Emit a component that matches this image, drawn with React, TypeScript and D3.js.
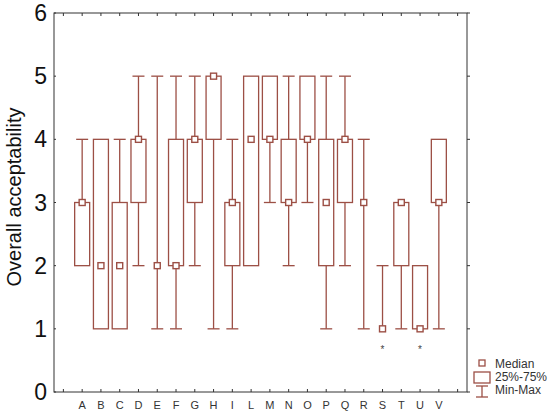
import React, { useEffect, useRef } from 'react';
import * as d3 from 'd3';

// sample names and box-plot stats
const samples = ['A', 'B', 'C', 'D', 'E', 'F', 'G', 'H', 'I', 'L', 'M', 'N', 'O', 'P', 'Q', 'R', 'S', 'T', 'U', 'V'];
const mins =    [2, 1, 1, 2, 1, 1, 2, 1, 1, 2, 3, 2, 3, 1, 2, 1, 1, 1, 1, 1];
const q1s =     [2, 1, 1, 3, 2, 2, 3, 4, 2, 2, 4, 3, 4, 2, 3, 3, 1, 2, 1, 3];
const medians = [3, 2, 2, 4, 2, 2, 4, 5, 3, 4, 4, 3, 4, 3, 4, 3, 1, 3, 1, 3];
const q3s =     [3, 4, 3, 4, 2, 4, 4, 5, 3, 5, 5, 4, 5, 4, 4, 3, 1, 3, 2, 4];
const maxs =    [4, 4, 4, 5, 5, 5, 5, 5, 4, 5, 5, 5, 5, 5, 5, 4, 2, 3, 2, 4];
const outlierSamples = ['S', 'U'];
const outlierValues = [0.7, 0.7];
const yTicks = [0, 1, 2, 3, 4, 5, 6];

const W = 550;
const H = 414;
const COLOR = '#9c4f45';

const App = () => {
  const ref = useRef<SVGSVGElement>(null);

  useEffect(() => {
    const svg = d3.select(ref.current);
    svg.selectAll('*').remove();

    const left = 54, right = 467, top = 13, bottom = 392;
    // slot 0 and slot 21 are empty ticks at either end
    const x = d3.scaleLinear().domain([-0.5, 21.5]).range([left, right]);
    const y = d3.scaleLinear().domain([0, 6]).range([bottom, top]);
    const pos = (s: string) => x(samples.indexOf(s) + 1);

    svg.append('rect').attr('width', W).attr('height', H).attr('fill', 'white');

    // frame
    svg.append('rect')
      .attr('x', left).attr('y', top)
      .attr('width', right - left).attr('height', bottom - top)
      .attr('fill', 'none').attr('stroke', '#333').attr('stroke-width', 1);

    // x ticks, inward on top and bottom
    const xt = d3.range(0, 22);
    svg.append('g').selectAll('line').data(xt).enter().append('line')
      .attr('x1', d => x(d)).attr('x2', d => x(d))
      .attr('y1', bottom).attr('y2', bottom - 3)
      .attr('stroke', '#333');
    svg.append('g').selectAll('line').data(xt).enter().append('line')
      .attr('x1', d => x(d)).attr('x2', d => x(d))
      .attr('y1', top).attr('y2', top + 3)
      .attr('stroke', '#333');

    // y ticks: tiny inward on the left, outward on the right
    svg.append('g').selectAll('line').data(yTicks).enter().append('line')
      .attr('x1', left).attr('x2', left + 2)
      .attr('y1', d => y(d)).attr('y2', d => y(d))
      .attr('stroke', '#333');
    svg.append('g').selectAll('line').data(yTicks).enter().append('line')
      .attr('x1', right).attr('x2', right + 3)
      .attr('y1', d => y(d)).attr('y2', d => y(d))
      .attr('stroke', '#333');

    svg.append('g').selectAll('text').data(yTicks).enter().append('text')
      .attr('x', 47).attr('y', d => y(d) + 8)
      .attr('text-anchor', 'end')
      .style('font-family', 'Liberation Sans, Arial, sans-serif')
      .style('font-size', '23px')
      .attr('fill', '#111')
      .text(d => d);

    svg.append('g').selectAll('text').data(samples).enter().append('text')
      .attr('x', d => pos(d)).attr('y', 409)
      .attr('text-anchor', 'middle')
      .style('font-family', 'Liberation Sans, Arial, sans-serif')
      .style('font-size', '11px')
      .attr('fill', '#333')
      .text(d => d);

    svg.append('text')
      .attr('transform', 'translate(21,197) rotate(-90)')
      .attr('text-anchor', 'middle')
      .style('font-family', 'Liberation Sans, Arial, sans-serif')
      .style('font-size', '20px')
      .attr('fill', '#111')
      .text('Overall acceptability');

    const boxW = 15, capW = 12, medS = 6;
    const g = svg.append('g').attr('stroke', COLOR).attr('stroke-width', 1.3).attr('fill', 'none');

    samples.forEach((s, i) => {
      const cx = pos(s);
      // whiskers
      if (maxs[i] > q3s[i]) {
        g.append('line').attr('x1', cx).attr('x2', cx).attr('y1', y(q3s[i])).attr('y2', y(maxs[i]));
        g.append('line').attr('x1', cx - capW / 2).attr('x2', cx + capW / 2).attr('y1', y(maxs[i])).attr('y2', y(maxs[i]));
      }
      if (mins[i] < q1s[i]) {
        g.append('line').attr('x1', cx).attr('x2', cx).attr('y1', y(q1s[i])).attr('y2', y(mins[i]));
        g.append('line').attr('x1', cx - capW / 2).attr('x2', cx + capW / 2).attr('y1', y(mins[i])).attr('y2', y(mins[i]));
      }
      // box
      g.append('rect')
        .attr('x', cx - boxW / 2).attr('y', y(q3s[i]))
        .attr('width', boxW).attr('height', Math.max(0, y(q1s[i]) - y(q3s[i])));
      // median
      g.append('rect')
        .attr('x', cx - medS / 2).attr('y', y(medians[i]) - medS / 2)
        .attr('width', medS).attr('height', medS)
        .attr('fill', 'white').attr('stroke-width', 1.4);
    });

    svg.append('g').selectAll('text').data(outlierSamples).enter().append('text')
      .attr('x', d => pos(d)).attr('y', (d, i) => y(outlierValues[i]) + 5)
      .attr('text-anchor', 'middle')
      .style('font-family', 'Liberation Sans, Arial, sans-serif')
      .style('font-size', '10px')
      .attr('fill', '#444')
      .text('*');

    // legend
    const lg = svg.append('g');
    const lx = 482;
    lg.append('rect').attr('x', lx - 3).attr('y', 360).attr('width', 6).attr('height', 6)
      .attr('fill', 'white').attr('stroke', COLOR).attr('stroke-width', 1.3);
    lg.append('rect').attr('x', lx - 8).attr('y', 372).attr('width', 16).attr('height', 11)
      .attr('fill', 'none').attr('stroke', COLOR).attr('stroke-width', 1.3);
    lg.append('line').attr('x1', lx - 6).attr('x2', lx + 6).attr('y1', 386).attr('y2', 386).attr('stroke', COLOR).attr('stroke-width', 1.3);
    lg.append('line').attr('x1', lx).attr('x2', lx).attr('y1', 386).attr('y2', 397).attr('stroke', COLOR).attr('stroke-width', 1.3);
    lg.append('line').attr('x1', lx - 6).attr('x2', lx + 6).attr('y1', 397).attr('y2', 397).attr('stroke', COLOR).attr('stroke-width', 1.3);
    const legendText = ['Median', '25%-75%', 'Min-Max'];
    lg.selectAll('text').data(legendText).enter().append('text')
      .attr('x', 495).attr('y', (d, i) => 368 + i * 13)
      .style('font-family', 'Liberation Sans, Arial, sans-serif')
      .style('font-size', '12px')
      .attr('fill', '#333')
      .text(d => d);
  }, []);

  return (
    <svg ref={ref} width={W} height={H}
      style={{ position: 'absolute', left: 0, top: 0, display: 'block' }} />
  );
};

export default App;
